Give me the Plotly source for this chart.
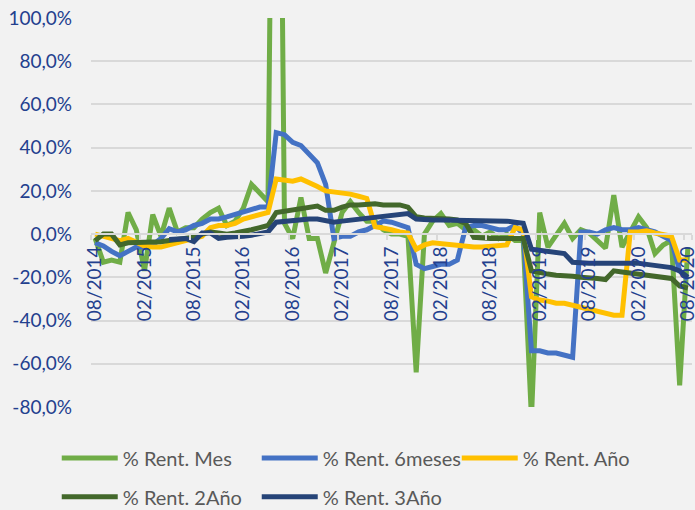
import plotly.graph_objects as go
import pandas as pd

months = [d.strftime("%m/%Y") for d in pd.date_range("2014-08-01", "2020-08-01", freq="MS")]

rent_mes = [-2, -13, -12, -13, 10, 2, -17, 9, -1, 12, 1, 3, 3, 7, 10, 12, 4, 6, 12, 23,
            19, 15, 400, 5, -2, 17, -2, -2, -18, -3, 10, 15, 10, 6, 6, 2, 0, 0, -1, -64,
            0, 6, 9.5, 4, 5, 2, 2, -1, 1, -2, 0, -3, -3, -85, 10, -6, 0, 5, -2, 2,
            0.5, -3, -6.5, 18, -6, 1, 8, 3, -9, -5, -3, -70, -6]
rent_6m = [-4, -5.5, -8, -10, -8, -6, -6, -5, -2, 2.5, 1, 2, 4, 5, 7, 7, 8, 9, 10, 11,
           12.5, 12.5, 47, 46, 42.5, 41, 37, 33, 23, -2, -1, -1, 1, 2, 4, 6, 5.5, 4.5, 3, -14,
           -16, -15, -14, -14, -12, 3, 4, 4, 3, 2, 2, 4, 0, -54, -54, -55, -55, -56, -57, 1,
           1, 0, 2, 3, 2, 2, 3, 2, 1, -1, -3, -17, -21]
rent_ano = [0, -1, -2, -3, -2, -4, -5.5, -6, -6, -5, -4, -3, -2, -1, 3, 4, 4, 5, 7, 8,
            9.5, 10, 25.5, 25, 24.5, 25.5, 24, 22, 20, 19.5, 19.5, 18.5, 17.5, 16.5, 3.5, 3, 2, 1, 0.5, -7,
            -5, -4, -4.5, -5, -5.5, -5.5, -6, -6, -5.5, -5.5, -5, 3, 2, -29, -30.5, -31, -32, -32, -33, -34,
            -35, -36, -37, -37.5, -37.5, 1, 1, 1.5, 0.5, 0, -1, -12, -12]
rent_2ano = [-3, 0, 0, -5, -4, -4, -4, -4, -3.5, -3, -2.5, -2, -1.5, 0, 1, 0.5, 0, 0.5, 1, 2,
             3, 4, 10, 10.5, 11, 12, 12.5, 13, 11, 11, 12.5, 13.5, 13.5, 14, 14, 13.5, 13.5, 13.5, 12.5, 8,
             7.5, 7.5, 7.5, 7, 6.5, 5, -1.5, -2, -2, -2, -2, -2, -2, -17, -18, -18.5, -19, -19, -19.5, -20,
             -20, -20.5, -21, -17, -17.5, -18, -18, -18.5, -19.5, -20, -20.5, -24, -25]
rent_3ano = [None, None, None, None, None, None, None, None, None, -2.5, -2.5, -2, -3.5, 0.5, 0.5, -2, -1.5, -1.5, -1, -0.5,
             0, 1, 5.5, 6, 6, 6.5, 7, 7, 6.5, 5.5, 6, 6.5, 7, 7, 7.5, 8, 8.5, 9, 9.5, 7,
             6.5, 6.5, 6.5, 6.5, 6.5, 6.5, 6.5, 6.5, 6.5, 6, 6, 5.5, 5, -7, -7.5, -8, -8.5, -9, -13, -13.5,
             -13.5, -13.5, -13.5, -13, -13, -13, -13.5, -14, -14.5, -15, -15.5, -17, -20]

series = [
    ("% Rent. Mes", rent_mes, "#70AD47", "legend"),
    ("% Rent. 6meses", rent_6m, "#4472C4", "legend"),
    ("% Rent. Año", rent_ano, "#FFC000", "legend"),
    ("% Rent. 2Año", rent_2ano, "#43682B", "legend2"),
    ("% Rent. 3Año", rent_3ano, "#264478", "legend2"),
]

y_ticks = [-80, -60, -40, -20, 0, 20, 40, 60, 80, 100]
y_ticktext = [f"{v:.1f}".replace(".", ",") + "%" for v in y_ticks]
x_ticks = months[::6]

fig = go.Figure()
for name, vals, color, leg in series:
    fig.add_trace(go.Scatter(
        x=months, y=vals, name=name, mode="lines",
        line=dict(color=color, width=5, shape="linear"),
        legend=leg, connectgaps=False,
    ))

tick_color = "#23408E"
font_family = "Lato, 'Open Sans', sans-serif"
legend_common = dict(orientation="h", x=-0.057, xanchor="left", yanchor="middle",
                     entrywidth=129, itemwidth=56,
                     font=dict(size=20, color="#595959"),
                     bgcolor="rgba(0,0,0,0)")

fig.update_layout(
    width=695, height=510,
    margin=dict(l=91, r=3, t=18, b=103, autoexpand=False),
    paper_bgcolor="#F2F2F2", plot_bgcolor="#F2F2F2",
    font=dict(family=font_family),
    showlegend=True,
    legend=dict(y=-0.131, **legend_common),
    legend2=dict(y=-0.231, **legend_common),
    xaxis=dict(
        type="category", categoryorder="array", categoryarray=months,
        range=[-0.5, len(months) - 0.5],
        tickmode="array", tickvals=x_ticks, ticktext=x_ticks,
        tickangle=-90, tickfont=dict(size=19, color=tick_color),
        showgrid=False, showline=True, linecolor="#D9D9D9", linewidth=1.5,
        ticks="outside", ticklen=5, tickcolor="#D9D9D9", tickwidth=1.5,
        tickson="boundaries", automargin=False, ticklabelstandoff=4,
        anchor="free", position=80 / 180,
        zeroline=False,
    ),
    yaxis=dict(
        range=[-80, 100], tickmode="array", tickvals=y_ticks, ticktext=y_ticktext,
        tickfont=dict(size=19, color=tick_color),
        showgrid=True, gridcolor="#D9D9D9", gridwidth=1.5,
        zeroline=False, showline=False, ticks="", ticklabelstandoff=18,
        automargin=False,
    ),
)

fig.write_html(
    "out.html",
    config={"displayModeBar": False},
    post_script="document.body.style.margin='0px';document.body.style.background='#F2F2F2';",
)
